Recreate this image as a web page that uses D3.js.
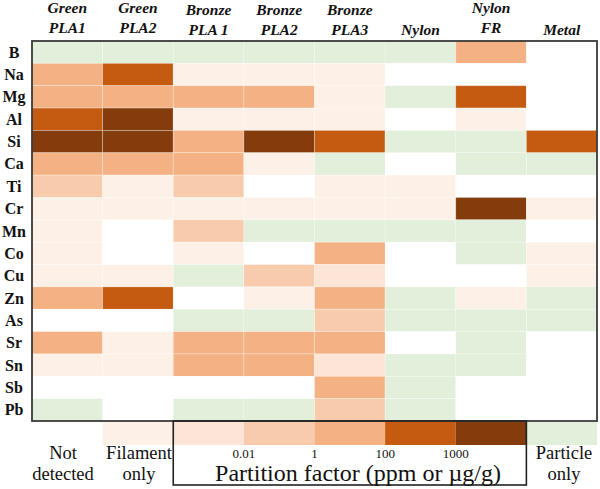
<!DOCTYPE html>
<html><head><meta charset="utf-8">
<script src="https://cdn.jsdelivr.net/npm/d3@7"></script>
<style>
html,body{margin:0;padding:0;background:#fff;}
svg{display:block;}
text{font-family:"Liberation Serif","Times New Roman",serif;}
</style></head>
<body><svg id="chart" width="600" height="489"></svg>
<script>
// ---- data ----
const columns = ["Green PLA1","Green PLA2","Bronze PLA 1","Bronze PLA2","Bronze PLA3","Nylon","Nylon FR","Metal"];
const headerLines = [["Green","PLA1"],["Green","PLA2"],["Bronze","PLA 1"],["Bronze","PLA2"],["Bronze","PLA3"],["","Nylon"],["Nylon","FR"],["","Metal"]];
const elements = ["B","Na","Mg","Al","Si","Ca","Ti","Cr","Mn","Co","Cu","Zn","As","Sr","Sn","Sb","Pb"];
// N = not detected, F = filament only, P = particle only, 1..5 = partition factor class
const B  = ["P","P","P","P","P","P","3","N"];
const Na = ["3","4","F","F","F","N","N","N"];
const Mg = ["3","3","3","3","F","P","4","N"];
const Al = ["4","5","F","F","F","N","F","N"];
const Si = ["5","5","3","5","4","P","P","4"];
const Ca = ["3","3","3","F","P","N","P","P"];
const Ti = ["2","F","2","N","F","F","N","N"];
const Cr = ["F","F","F","F","F","F","5","F"];
const Mn = ["F","N","2","P","P","P","P","N"];
const Co = ["F","N","F","N","3","N","P","F"];
const Cu = ["F","F","P","2","1","N","N","F"];
const Zn = ["3","4","N","F","3","P","F","P"];
const As = ["N","N","P","P","2","P","P","P"];
const Sr = ["3","F","3","3","3","N","P","N"];
const Sn = ["F","F","3","3","1","P","P","N"];
const Sb = ["N","N","N","N","3","P","N","N"];
const Pb = ["P","N","P","P","2","P","N","N"];
const values = [B,Na,Mg,Al,Si,Ca,Ti,Cr,Mn,Co,Cu,Zn,As,Sr,Sn,Sb,Pb];
const legendCodes = ["N","F","1","2","3","4","5","P"];
const legendLabels = {N:["Not","detected"],F:["Filament","only"],P:["Particle","only"]};
const tickLabels = ["0.01","1","100","1000"];

// ---- scales ----
const categories = ["N","F","1","2","3","4","5","P"];
const palette = ["#ffffff","#fdf1e7","#fce4d6","#f8cbad","#f4b183","#c55a11","#843c0c","#e2efda"];
const color = d3.scaleOrdinal().domain(categories).range(palette);

const x = d3.scaleBand().domain(columns).range([32,597]).padding(0);
const y = d3.scaleBand().domain(elements).range([41,421]).padding(0);

const svg = d3.select("#chart");

// cells
const cells = [];
values.forEach((row,i)=>row.forEach((v,j)=>cells.push({el:elements[i],col:columns[j],v})));
svg.append("g").selectAll("rect").data(cells).join("rect")
  .attr("x",d=>x(d.col)).attr("y",d=>y(d.el))
  .attr("width",x.bandwidth()).attr("height",y.bandwidth())
  .attr("fill",d=>color(d.v))
  .attr("stroke",d=>d.v==="N"?"none":"#ffffff").attr("stroke-opacity",0.35).attr("stroke-width",0.8);

// frame
svg.append("rect").attr("x",32).attr("y",41).attr("width",565).attr("height",380)
  .attr("fill","none").attr("stroke","#3a3a3a").attr("stroke-width",1.8);

// row labels
svg.append("g").selectAll("text").data(elements).join("text")
  .attr("x",14).attr("y",d=>y(d)+y.bandwidth()/2+5.5)
  .attr("text-anchor","middle").attr("font-weight","bold").attr("font-size",16)
  .attr("fill","#111").text(d=>d);

// column headers
const hdr = svg.append("g");
columns.forEach((c,j)=>{
  const cx = x(c)+x.bandwidth()/2;
  const lines = headerLines[j];
  const low = j>=2 && j!==6 ? 2 : 0;
  hdr.append("text").attr("x",cx).attr("y",13+low).attr("text-anchor","middle")
    .attr("font-weight","bold").attr("font-style","italic").attr("font-size",15.5).attr("fill","#111").text(lines[0]);
  hdr.append("text").attr("x",cx).attr("y",33+low).attr("text-anchor","middle")
    .attr("font-weight","bold").attr("font-style","italic").attr("font-size",15.5).attr("fill","#111").text(lines[1]);
});

// legend cells
const ly0 = 422, lh = 23;
svg.append("g").selectAll("rect").data(legendCodes).join("rect")
  .attr("x",(d,i)=>x(columns[i])).attr("y",ly0)
  .attr("width",x.bandwidth()).attr("height",lh)
  .attr("fill",d=>color(d));

// legend box around scale
const bx0 = x(columns[2]), bx1 = x(columns[6])+x.bandwidth();
svg.append("rect").attr("x",bx0).attr("y",421).attr("width",bx1-bx0).attr("height",64)
  .attr("fill","none").attr("stroke","#222").attr("stroke-width",1.6);

// tick labels at scale boundaries
svg.append("g").selectAll("text").data(tickLabels).join("text")
  .attr("x",(d,i)=>x(columns[i+3])).attr("y",458)
  .attr("text-anchor","middle").attr("font-size",13).attr("fill","#111").text(d=>d);

svg.append("text").attr("x",358).attr("y",481).attr("text-anchor","middle")
  .attr("font-size",24).attr("fill","#111").text("Partition factor (ppm or µg/g)");

// categorical legend labels (two lines)
const labelCols = [["N",63],["F",139],["P",564]];
labelCols.forEach(([code,cx])=>{
  const [l1,l2] = legendLabels[code];
  const t = svg.append("text").attr("x",cx).attr("y",459).attr("text-anchor","middle").attr("font-size",18.5).attr("fill","#111");
  t.append("tspan").attr("x",cx).attr("dy",0).text(l1);
  t.append("tspan").attr("x",cx).attr("dy",20.5).text(l2);
});
</script></body></html>
